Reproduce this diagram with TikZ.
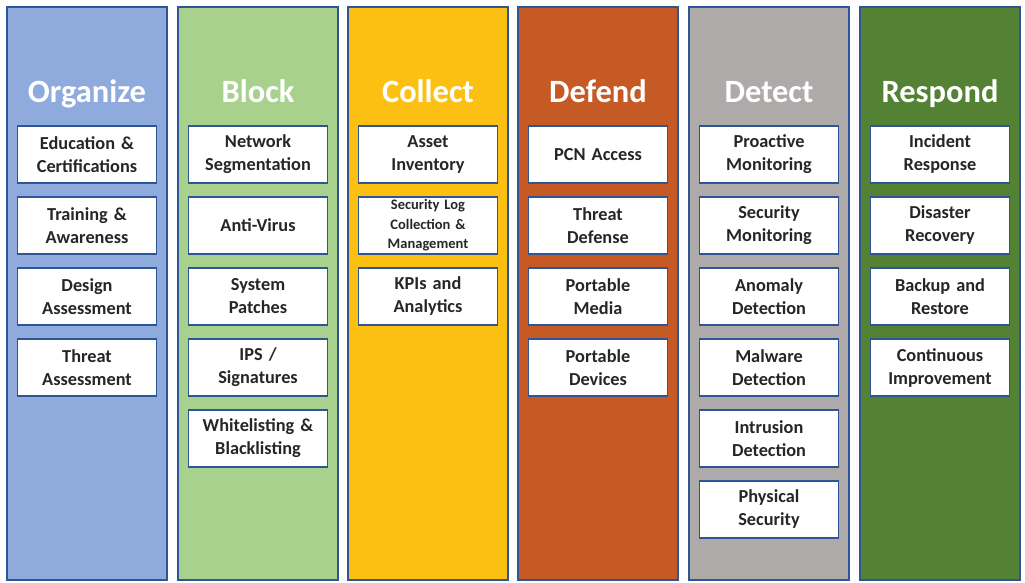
\documentclass[tikz,border=0pt]{standalone}
\usepackage{fontspec}
\setmainfont{Carlito}
\usepackage{tikz}
\usetikzlibrary{positioning}

\definecolor{orgblue}{HTML}{8FAADC}
\definecolor{blkgreen}{HTML}{A9D18E}
\definecolor{colyellow}{HTML}{FBC012}
\definecolor{defrust}{HTML}{C55A25}
\definecolor{detgray}{HTML}{AEAAAA}
\definecolor{respgreen}{HTML}{548235}
\definecolor{edgeblue}{HTML}{2F5597}
\definecolor{itemtext}{HTML}{262626}

\begin{document}
\begin{tikzpicture}[x=1pt,y=1pt,node distance = 14pt,
  lane/.style = {draw=edgeblue,line width=1.2pt,minimum width=160pt,minimum height=573pt,inner sep=0pt,outer sep=0pt},
  lanetitle/.style = {text=white,font=\fontsize{32.5}{36}\selectfont\bfseries,inner sep=0pt,anchor=base},
  item/.style = {draw=edgeblue,line width=1.2pt,fill=white,text=itemtext,minimum width=139pt,minimum height=57pt,
    text width=136pt,align=center,inner sep=0pt,outer sep=0pt,font=\fontsize{18.3}{23}\selectfont\bfseries},
  smallitem/.style = {item,font=\fontsize{14.5}{19.5}\selectfont\bfseries},
]
\useasboundingbox (0,0) rectangle (1025,-582);

% lanes
\node (org) [lane,fill=orgblue]   at (87,-293.5)  {};
\node (blk) [lane,fill=blkgreen]  at (258,-293.5) {};
\node (col) [lane,fill=colyellow] at (428,-293.5) {};
\node (def) [lane,fill=defrust]   at (598,-293.5) {};
\node (det) [lane,fill=detgray]   at (769,-293.5) {};
\node (res) [lane,fill=respgreen] at (940,-293.5) {};

% titles
\node (orgT) [lanetitle] at ([yshift=-95pt]org.north) {Organize};
\node (blkT) [lanetitle] at ([yshift=-95pt]blk.north) {Block};
\node (colT) [lanetitle] at ([yshift=-95pt]col.north) {Collect};
\node (defT) [lanetitle] at ([yshift=-95pt]def.north) {Defend};
\node (detT) [lanetitle] at ([yshift=-95pt]det.north) {Detect};
\node (resT) [lanetitle] at ([yshift=-95pt]res.north) {Respond};

% Organize
\node (org1) [item,below=119pt of org.north] {Education \&\\Certifications};
\node (org2) [item,below=of org1] {Training \&\\Awareness};
\node (org3) [item,below=of org2] {Design\\Assessment};
\node (org4) [item,below=of org3] {Threat\\Assessment};

% Block
\node (blk1) [item,below=119pt of blk.north] {Network\\Segmentation};
\node (blk2) [item,below=of blk1] {Anti-Virus};
\node (blk3) [item,below=of blk2] {System\\Patches};
\node (blk4) [item,below=of blk3] {IPS /\\Signatures};
\node (blk5) [item,below=of blk4] {Whitelisting \&\\Blacklisting};

% Collect
\node (col1) [item,below=119pt of col.north] {Asset\\Inventory};
\node (col2) [smallitem,below=of col1] {Security Log\\Collection \&\\Management};
\node (col3) [item,below=of col2] {KPIs and\\Analytics};

% Defend
\node (def1) [item,below=119pt of def.north] {PCN Access};
\node (def2) [item,below=of def1] {Threat\\Defense};
\node (def3) [item,below=of def2] {Portable\\Media};
\node (def4) [item,below=of def3] {Portable\\Devices};

% Detect
\node (det1) [item,below=119pt of det.north] {Proactive\\Monitoring};
\node (det2) [item,below=of det1] {Security\\Monitoring};
\node (det3) [item,below=of det2] {Anomaly\\Detection};
\node (det4) [item,below=of det3] {Malware\\Detection};
\node (det5) [item,below=of det4] {Intrusion\\Detection};
\node (det6) [item,below=of det5] {Physical\\Security};

% Respond
\node (res1) [item,below=119pt of res.north] {Incident\\Response};
\node (res2) [item,below=of res1] {Disaster\\Recovery};
\node (res3) [item,below=of res2] {Backup and\\Restore};
\node (res4) [item,below=of res3] {Continuous\\Improvement};
\end{tikzpicture}
\end{document}
